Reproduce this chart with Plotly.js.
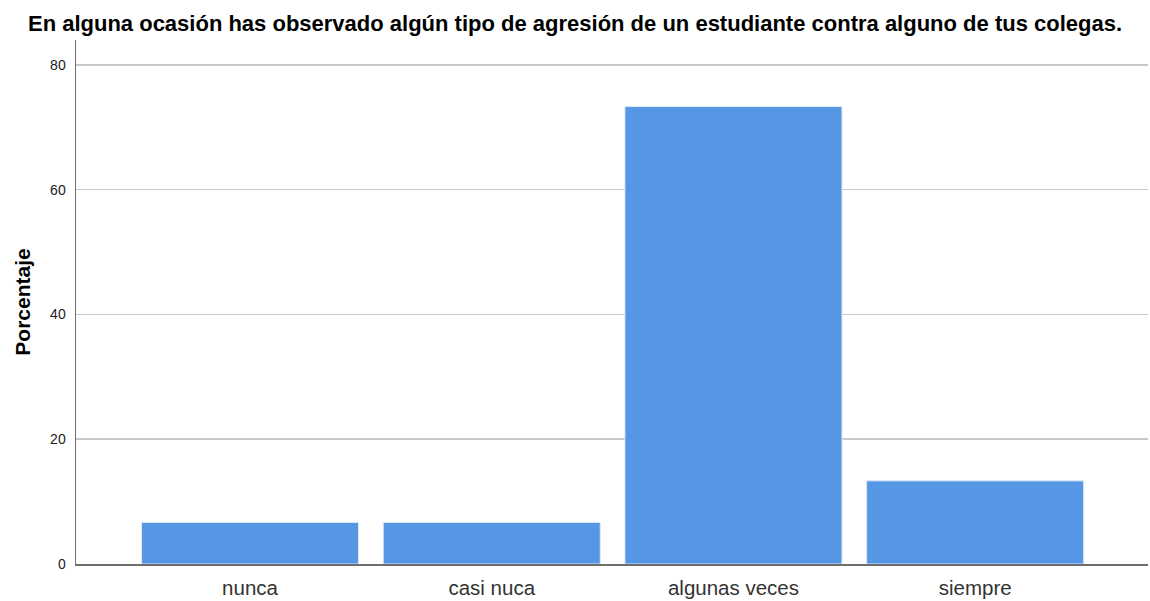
<!DOCTYPE html>
<html>
<head>
<meta charset="utf-8">
<script src="https://cdn.plot.ly/plotly-3.0.1.min.js"></script>
<style>html,body{margin:0;padding:0;background:#fff;}#chart{width:1150px;height:601px;}</style>
</head>
<body>
<div id="chart"></div>
<script>
const categories = ["nunca", "casi nuca", "algunas veces", "siempre"];
const percentages = [6.67, 6.67, 73.33, 13.33];
const yTicks = [0, 20, 40, 60, 80];

const trace = {
  type: "bar",
  x: categories,
  y: percentages,
  marker: {color: "#5596e5", line: {color: "#dfe9f7", width: 1}},
  hoverinfo: "x+y"
};

const layout = {
  width: 1150, height: 601,
  margin: {l: 76, r: 2, t: 40, b: 37},
  paper_bgcolor: "#fff", plot_bgcolor: "#fff",
  title: {text: "En alguna ocasión has observado algún tipo de agresión de un estudiante contra alguno de tus colegas.",
    font: {family: "Liberation Sans, Arial, sans-serif", size: 22, color: "#000", weight: "bold"},
    x: 0.5, xanchor: "center", y: 0.962, yanchor: "middle"},
  bargap: 0.102,
  xaxis: {
    range: [-0.72, 3.715],
    showline: true, linecolor: "#6e6e6e", linewidth: 1.5,
    ticks: "", showgrid: false, zeroline: false,
    ticklabelstandoff: 5,
    tickfont: {family: "Liberation Sans, Arial, sans-serif", size: 20.5, color: "#333"}
  },
  yaxis: {
    range: [0, 84],
    tickvals: yTicks, ticktext: yTicks.map(String),
    showline: true, linecolor: "#6e6e6e", linewidth: 1.5,
    ticks: "", showgrid: true, gridcolor: "#c8c8c8", gridwidth: 1.5, zeroline: false,
    tickfont: {family: "Liberation Sans, Arial, sans-serif", size: 14, color: "#222"},
    ticklabelstandoff: 6,
    title: {text: "Porcentaje", standoff: 14,
      font: {family: "Liberation Sans, Arial, sans-serif", size: 21, color: "#000", weight: "bold"}}
  },
  showlegend: false
};

Plotly.newPlot("chart", [trace], layout, {displayModeBar: false, staticPlot: true});
</script>
</body>
</html>
